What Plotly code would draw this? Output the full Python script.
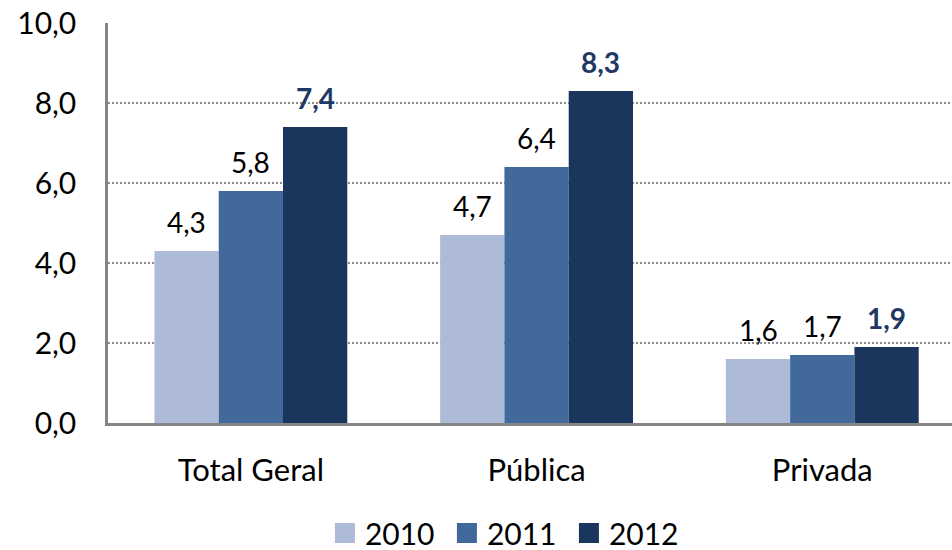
import plotly.graph_objects as go

categories = ["Total Geral", "Pública", "Privada"]
years = ["2010", "2011", "2012"]
values_2010 = [4.3, 4.7, 1.6]
values_2011 = [5.8, 6.4, 1.7]
values_2012 = [7.4, 8.3, 1.9]
series = [values_2010, values_2011, values_2012]
colors = ["#adbad8", "#41699b", "#1a365d"]
label_colors = ["#000000", "#000000", "#1f3864"]
label_bold = [False, False, True]
y_ticks = [0, 2, 4, 6, 8, 10]

FONT = "Lato"
bar_w = 0.225
offsets = [-bar_w, 0, bar_w]
xs = list(range(len(categories)))

fig = go.Figure()
for yr, vals, col in zip(years, series, colors):
    fig.add_trace(go.Bar(x=xs, y=vals, name=yr, marker=dict(color=col, line=dict(width=0)),
                         showlegend=False, hoverinfo="skip"))
    fig.add_trace(go.Scatter(x=[None], y=[None], name=yr, mode="markers",
                             marker=dict(symbol="square", size=16, color=col,
                                         line=dict(color=col, width=4)),
                             showlegend=True))

annotations = []
for vals, off, lc, bold in zip(series, offsets, label_colors, label_bold):
    for i, v in enumerate(vals):
        txt = f"{v:.1f}".replace(".", ",")
        if bold:
            txt = f"<b>{txt}</b>"
        annotations.append(dict(x=i + off, y=v, text=txt, showarrow=False, xref="x", yref="y",
                                yanchor="middle", yshift=29,
                                font=dict(family=FONT, size=28, color=lc)))

fig.update_layout(
    width=952, height=550,
    margin=dict(l=108, r=0, t=23, b=127),
    paper_bgcolor="white", plot_bgcolor="white",
    barmode="group", bargap=0.325, bargroupgap=0,
    separators=",.",
    font=dict(family=FONT, size=30, color="#000000"),
    annotations=annotations,
    legend=dict(orientation="h", xref="container", yref="container",
                x=0.3413, xanchor="left", y=1 - 533 / 550, yanchor="middle",
                entrywidth=77, itemwidth=30,
                font=dict(family=FONT, size=30, color="#000000"),
                bgcolor="rgba(0,0,0,0)"),
)
fig.update_xaxes(range=[-0.5, 2.454], tickvals=xs, ticktext=categories, showgrid=False,
                 zeroline=False, showline=True, linecolor="#868686", linewidth=2.5,
                 ticks="", ticklabelstandoff=18, tickfont=dict(family=FONT, size=31))
fig.update_yaxes(range=[0, 10], tickvals=y_ticks, tickformat=".1f", showgrid=True,
                 gridcolor="#8c8c8c", gridwidth=2, griddash="2px,2px",
                 zeroline=False, showline=True, linecolor="#868686", linewidth=2.5,
                 ticks="", ticklabelstandoff=23, tickfont=dict(family=FONT, size=30))

fig.write_html("out.html", config={"displayModeBar": False},
               post_script="document.body.style.margin='0px';")
